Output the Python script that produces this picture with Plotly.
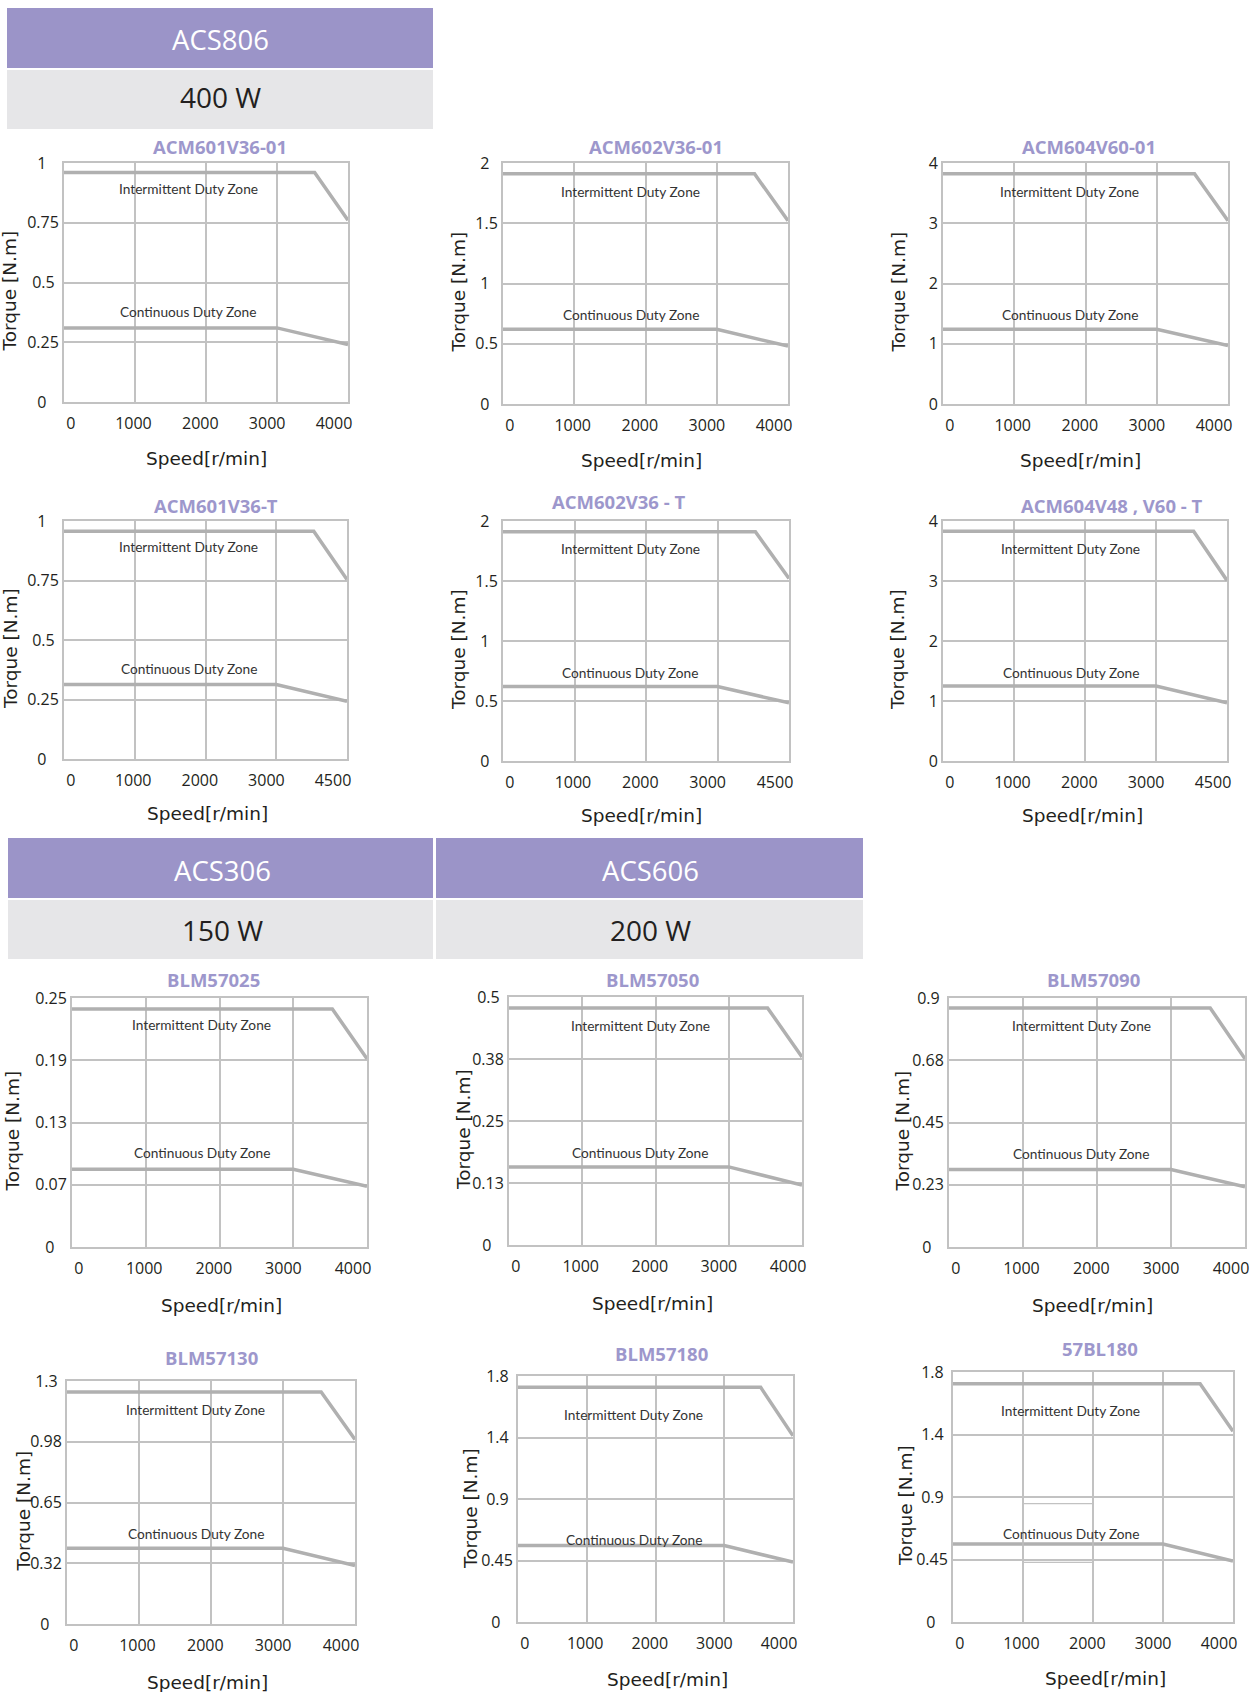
import plotly.graph_objects as go

W, H = 1251, 1692

# ---------------- data ----------------
panel_titles = ["ACM601V36-01", "ACM602V36-01", "ACM604V60-01",
                "ACM601V36-T", "ACM602V36 - T", "ACM604V48 , V60 - T",
                "BLM57025", "BLM57050", "BLM57090",
                "BLM57130", "BLM57180", "57BL180"]

speed_tick_values = [0, 1000, 2000, 3000, 4000]
speed_labels_4000 = ["0", "1000", "2000", "3000", "4000"]
speed_labels_4500 = ["0", "1000", "2000", "3000", "4500"]
x_tick_labels = [speed_labels_4000] * 3 + [speed_labels_4500] * 3 + [speed_labels_4000] * 6

torque_max = [1, 2, 4, 1, 2, 4, 0.25, 0.5, 0.9, 1.3, 1.8, 1.8]
torque_tick_labels = [
    ["0", "0.25", "0.5", "0.75", "1"],
    ["0", "0.5", "1", "1.5", "2"],
    ["0", "1", "2", "3", "4"],
    ["0", "0.25", "0.5", "0.75", "1"],
    ["0", "0.5", "1", "1.5", "2"],
    ["0", "1", "2", "3", "4"],
    ["0", "0.07", "0.13", "0.19", "0.25"],
    ["0", "0.13", "0.25", "0.38", "0.5"],
    ["0", "0.23", "0.45", "0.68", "0.9"],
    ["0", "0.32", "0.65", "0.98", "1.3"],
    ["0", "0.45", "0.9", "1.4", "1.8"],
    ["0", "0.45", "0.9", "1.4", "1.8"],
]

intermittent_speed = [0, 3530, 4000]
continuous_speed = [0, 3000, 4000]

intermittent_torque = [
    [0.96, 0.96, 0.76],
    [1.91, 1.91, 1.52],
    [3.82, 3.82, 3.04],
    [0.957, 0.957, 0.754],
    [1.91, 1.91, 1.52],
    [3.83, 3.83, 3.01],
    [0.239, 0.239, 0.189],
    [0.478, 0.478, 0.379],
    [0.864, 0.864, 0.680],
    [1.241, 1.241, 0.987],
    [1.717, 1.717, 1.362],
    [1.716, 1.716, 1.373],
]
continuous_torque = [
    [0.31, 0.31, 0.24],
    [0.62, 0.62, 0.48],
    [1.24, 1.24, 0.97],
    [0.313, 0.313, 0.242],
    [0.62, 0.62, 0.485],
    [1.25, 1.25, 0.97],
    [0.078, 0.078, 0.061],
    [0.1575, 0.1575, 0.121],
    [0.280, 0.280, 0.2175],
    [0.405, 0.405, 0.313],
    [0.560, 0.560, 0.438],
    [0.562, 0.562, 0.439],
]

# stray outline box visible in the 57BL180 chart
stray_box_speed = [1000, 2000, 2000, 1000, 1000]
stray_box_torque = [0.43, 0.43, 0.852, 0.852, 0.43]

headers = [
    # (model, power)
    ("ACS806", "400 W"),
    ("ACS306", "150 W"),
    ("ACS606", "200 W"),
]

# ---------------- layout (pixel geometry) ----------------
boxes = [  # left, top, right, bottom in px
    (64, 163, 348, 402), (503, 163, 788, 404), (943, 163, 1228, 404),
    (64, 521, 347, 759), (503, 521, 789, 761), (943, 521, 1227, 761),
    (72, 998, 367, 1247), (509, 997, 802, 1245), (949, 998, 1245, 1247),
    (67, 1381, 355, 1624), (518, 1376, 793, 1622), (953, 1372, 1233, 1622),
]
title_pos = [(220, 147), (656, 147), (1089, 147),
             (216, 505), (618, 502), (1112, 505),
             (213, 979), (652, 979), (1093, 979),
             (211, 1357), (661, 1353), (1100, 1348)]
ytitle_x = [9, 458, 898, 10, 459, 898, 12, 463, 902, 23, 470, 905]
speed_title_pos = [(206, 458), (641, 460), (1080, 460),
                   (207, 813), (641, 815), (1082, 815),
                   (221, 1305), (652, 1303), (1092, 1305),
                   (207, 1682), (667, 1679), (1105, 1678)]
inter_label_pos = [(1750, .895), (1790, .883), (1780, .883),
                   (1760, .891), (1780, .885), (1800, .885),
                   (1760, .893), (1790, .884), (1790, .889),
                   (1790, .882), (1680, .844), (1680, .847)]
cont_label_pos = [(1750, .380), (1790, .373), (1780, .373),
                  (1760, .381), (1780, .369), (1800, .369),
                  (1760, .381), (1790, .371), (1790, .374),
                  (1790, .371), (1680, .334), (1680, .353)]

header_boxes = [  # left, right, purple top, purple bottom, gray top, gray bottom, text x, text1 y, text2 y
    (7, 433, 8, 68, 70, 129, 220, 39, 97),
    (8, 433, 838, 898, 900, 959, 222, 870, 930),
    (436, 863, 838, 898, 900, 959, 650, 870, 930),
]

# speed labels sit slightly inside their grid lines in the original artwork:
# all labels are shifted left, then eased back right with leading non-breaking spaces
X_LABEL_SHIFT = -14
x_label_lead = [10, 6, 4, 2, 0]

PURPLE = "#9b94c8"
LIGHTGRAY = "#e6e6e8"
TITLE_PURPLE = "#9d97cc"
GRID = "#c2c2c2"
CURVE = "#b0b0b0"
TEXT = "#231f20"
TICK_SIZE = 16
NBSP = "\u00a0"


def px(x):
    return x / W


def py(y):
    return 1 - y / H


def centre_labels(labels):
    """Pad right-aligned tick labels so that they appear centred in their column."""
    def width(s):
        return sum(0.572 if c.isdigit() else 0.266 for c in s) * TICK_SIZE
    nbsp = 0.26 * TICK_SIZE
    wmax = max(width(s) for s in labels)
    return [s + NBSP * int(round((wmax - width(s)) / 2 / nbsp)) for s in labels]


def pad_speed_labels(labels):
    return [NBSP * a + s for s, a in zip(labels, x_label_lead)]


fig = go.Figure()
annotations = []
shapes = []

for i in range(12):
    n = "" if i == 0 else str(i + 1)
    xref, yref = "x" + n, "y" + n
    l, t, r, b = boxes[i]
    ymax = torque_max[i]

    fig.add_trace(go.Scatter(x=intermittent_speed, y=intermittent_torque[i], mode="lines",
                             line=dict(color=CURVE, width=3.5), xaxis=xref, yaxis=yref,
                             showlegend=False, hoverinfo="skip"))
    fig.add_trace(go.Scatter(x=continuous_speed, y=continuous_torque[i], mode="lines",
                             line=dict(color=CURVE, width=3.5), xaxis=xref, yaxis=yref,
                             showlegend=False, hoverinfo="skip"))
    if i == 11:
        fig.add_trace(go.Scatter(x=stray_box_speed, y=stray_box_torque, mode="lines",
                                 line=dict(color=GRID, width=1.2), xaxis=xref, yaxis=yref,
                                 showlegend=False, hoverinfo="skip"))

    fig.update_layout(**{
        "xaxis" + n: dict(domain=[px(l), px(r)], range=[0, 4000], anchor=yref,
                          tickvals=speed_tick_values,
                          ticktext=pad_speed_labels(x_tick_labels[i]),
                          ticklabelshift=X_LABEL_SHIFT,
                          showgrid=True, gridcolor=GRID, gridwidth=2,
                          showline=True, mirror=True, linecolor=GRID, linewidth=2,
                          zeroline=False, ticks="outside", ticklen=6,
                          tickcolor="rgba(0,0,0,0)", automargin=False,
                          ticklabeloverflow="allow",
                          tickfont=dict(family="Open Sans", size=TICK_SIZE, color=TEXT),
                          fixedrange=True),
        "yaxis" + n: dict(domain=[py(b), py(t)], range=[0, ymax], anchor=xref,
                          tickvals=[ymax * k / 4 for k in range(5)],
                          ticktext=centre_labels(torque_tick_labels[i]),
                          showgrid=True, gridcolor=GRID, gridwidth=2,
                          showline=True, mirror=True, linecolor=GRID, linewidth=2,
                          zeroline=False, ticks="", automargin=False,
                          ticklabeloverflow="allow",
                          tickfont=dict(family="Open Sans", size=TICK_SIZE, color=TEXT),
                          fixedrange=True),
    })

    tx, ty = title_pos[i]
    annotations.append(dict(text="<b>" + panel_titles[i] + "</b>", x=px(tx), y=py(ty),
                            xref="paper", yref="paper", showarrow=False,
                            xanchor="center", yanchor="middle",
                            font=dict(family="Open Sans", size=18.5, color=TITLE_PURPLE)))
    annotations.append(dict(text="Torque [N.m]", x=px(ytitle_x[i]), y=py((t + b) / 2 + 9),
                            xref="paper", yref="paper", showarrow=False, textangle=-90,
                            xanchor="center", yanchor="middle",
                            font=dict(family="DejaVu Sans", size=18.5, color=TEXT)))
    sx, sy = speed_title_pos[i]
    annotations.append(dict(text="Speed[r/min]", x=px(sx), y=py(sy),
                            xref="paper", yref="paper", showarrow=False,
                            xanchor="center", yanchor="middle",
                            font=dict(family="DejaVu Sans", size=18.5, color=TEXT)))
    ix, iy = inter_label_pos[i]
    annotations.append(dict(text="Intermittent Duty Zone", x=ix, y=iy,
                            xref=xref, yref=yref + " domain", showarrow=False,
                            xanchor="center", yanchor="middle",
                            font=dict(family="Lato", size=13.7, color="#333333")))
    cx, cy = cont_label_pos[i]
    annotations.append(dict(text="Continuous Duty Zone", x=cx, y=cy,
                            xref=xref, yref=yref + " domain", showarrow=False,
                            xanchor="center", yanchor="middle",
                            font=dict(family="Lato", size=13.7, color="#333333")))

for (model, power), (l, r, pt, pb, gt, gb, tx, ty1, ty2) in zip(headers, header_boxes):
    shapes.append(dict(type="rect", xref="paper", yref="paper",
                       x0=px(l), x1=px(r), y0=py(pb), y1=py(pt),
                       fillcolor=PURPLE, line=dict(width=0), layer="below"))
    shapes.append(dict(type="rect", xref="paper", yref="paper",
                       x0=px(l), x1=px(r), y0=py(gb), y1=py(gt),
                       fillcolor=LIGHTGRAY, line=dict(width=0), layer="below"))
    annotations.append(dict(text=model, x=px(tx), y=py(ty1), xref="paper", yref="paper",
                            showarrow=False, xanchor="center", yanchor="middle",
                            font=dict(family="Open Sans", size=27.5, color="white")))
    annotations.append(dict(text=power, x=px(tx), y=py(ty2), xref="paper", yref="paper",
                            showarrow=False, xanchor="center", yanchor="middle",
                            font=dict(family="Open Sans", size=28, color=TEXT)))

fig.update_layout(width=W, height=H,
                  margin=dict(l=0, r=0, t=0, b=0, pad=0, autoexpand=False),
                  paper_bgcolor="white", plot_bgcolor="white",
                  annotations=annotations, shapes=shapes, showlegend=False)

fig.write_html("out.html", config={"displayModeBar": False},
               post_script="document.body.style.margin='0';document.body.style.overflow='hidden';")
